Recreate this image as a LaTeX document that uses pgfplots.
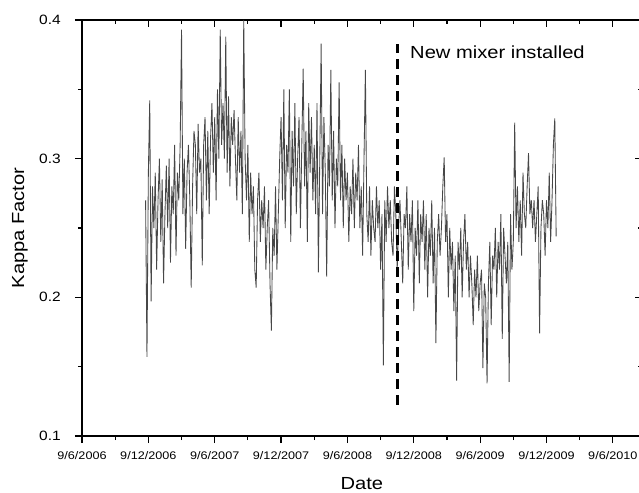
\documentclass[border=0pt]{standalone}
\usepackage{fontspec}
\setmainfont{Liberation Sans}[FakeStretch=1.15]
\usepackage{pgfplots}
\pgfplotsset{compat=1.18}
\begin{document}
\begin{tikzpicture}
\begin{axis}[
  scale only axis, width=559.6pt, height=416pt,
  xmin=0, xmax=50.6, ymin=0.1, ymax=0.4,
  xtick={0,6,...,48},
  xticklabels={9/6/2006,9/12/2006,9/6/2007,9/12/2007,9/6/2008,9/12/2008,9/6/2009,9/12/2009,9/6/2010},
  ytick={0.1,0.2,0.3,0.4}, yticklabels={0.1,0.2,0.3,0.4},
  minor x tick num=1, minor y tick num=1,
  xtick pos=lower, ytick pos=lower,
  tick align=outside,
  major tick length=7pt, minor tick length=4pt,
  axis line style={line width=1.3pt},
  every tick/.style={black, line width=1.2pt},
  xticklabel style={font=\fontsize{11}{13}\selectfont, inner sep=0pt},
  yticklabel style={font=\fontsize{13.5}{15}\selectfont, inner sep=0pt},
  xticklabel shift=8pt, yticklabel shift=14pt,
  xlabel={Date}, ylabel={Kappa Factor},
  xlabel style={font=\fontsize{17.5}{20}\selectfont, at={(axis description cs:0.5,-0.128)}, anchor=base, inner sep=0pt},
  ylabel style={font=\fontsize{17.5}{20}\selectfont, at={(axis description cs:-0.0965,0.5)}, anchor=south, inner sep=0pt},
]
\addplot[black!72, line width=0.85pt] coordinates {
(5.75,0.27)(5.875,0.157)(6,0.29)(6.125,0.342)(6.25,0.197)(6.375,0.28)(6.5,0.25)(6.625,0.29)
(6.75,0.22)(6.875,0.27)(7,0.30)(7.125,0.24)(7.25,0.285)(7.375,0.21)(7.5,0.26)(7.625,0.295)
(7.75,0.25)(7.875,0.30)(8,0.225)(8.125,0.28)(8.25,0.26)(8.375,0.31)(8.5,0.23)(8.625,0.29)
(8.75,0.27)(8.875,0.31)(9,0.393)(9.125,0.26)(9.25,0.30)(9.375,0.235)(9.5,0.29)(9.625,0.31)
(9.75,0.27)(9.875,0.207)(10,0.28)(10.125,0.32)(10.25,0.31)(10.375,0.26)(10.5,0.325)(10.625,0.29)
(10.75,0.30)(10.875,0.223)(11,0.31)(11.125,0.33)(11.25,0.27)(11.375,0.32)(11.5,0.26)(11.625,0.315)
(11.75,0.34)(11.875,0.29)(12,0.33)(12.125,0.27)(12.25,0.35)(12.375,0.30)(12.5,0.393)(12.625,0.31)
(12.75,0.34)(12.875,0.30)(13,0.388)(13.125,0.29)(13.25,0.345)(13.375,0.28)(13.5,0.33)(13.625,0.31)
(13.75,0.335)(13.875,0.30)(14,0.27)(14.125,0.33)(14.25,0.29)(14.375,0.32)(14.5,0.26)(14.625,0.40)
(14.75,0.30)(14.875,0.27)(15,0.31)(15.125,0.24)(15.25,0.29)(15.375,0.26)(15.5,0.28)(15.625,0.22)
(15.75,0.207)(15.875,0.27)(16,0.29)(16.125,0.24)(16.25,0.27)(16.375,0.25)(16.5,0.28)(16.625,0.22)
(16.75,0.25)(16.875,0.27)(17,0.21)(17.125,0.176)(17.25,0.25)(17.375,0.23)(17.5,0.28)(17.625,0.22)
(17.75,0.26)(17.875,0.30)(18,0.33)(18.125,0.27)(18.25,0.35)(18.375,0.25)(18.5,0.31)(18.625,0.29)
(18.75,0.35)(18.875,0.24)(19,0.32)(19.125,0.28)(19.25,0.34)(19.375,0.26)(19.5,0.30)(19.625,0.33)
(19.75,0.25)(19.875,0.31)(20,0.365)(20.125,0.28)(20.25,0.32)(20.375,0.24)(20.5,0.34)(20.625,0.29)
(20.75,0.33)(20.875,0.27)(21,0.31)(21.125,0.26)(21.25,0.34)(21.375,0.218)(21.5,0.30)(21.625,0.383)
(21.75,0.26)(21.875,0.33)(22,0.29)(22.125,0.215)(22.25,0.31)(22.375,0.28)(22.5,0.364)(22.625,0.27)
(22.75,0.32)(22.875,0.25)(23,0.30)(23.125,0.28)(23.25,0.355)(23.375,0.27)(23.5,0.31)(23.625,0.25)
(23.75,0.30)(23.875,0.27)(24,0.29)(24.125,0.24)(24.25,0.28)(24.375,0.26)(24.5,0.30)(24.625,0.25)
(24.75,0.29)(24.875,0.27)(25,0.31)(25.125,0.25)(25.25,0.28)(25.375,0.23)(25.5,0.30)(25.625,0.364)
(25.75,0.26)(25.875,0.24)(26,0.28)(26.125,0.23)(26.25,0.27)(26.375,0.25)(26.5,0.24)(26.625,0.28)
(26.75,0.25)(26.875,0.27)(27,0.22)(27.125,0.26)(27.25,0.151)(27.375,0.27)(27.5,0.24)(27.625,0.28)
(27.75,0.25)(27.875,0.27)(28,0.24)(28.125,0.23)(28.25,0.28)(28.375,0.26)(28.5,0.22)(28.625,0.25)
(28.75,0.27)(28.875,0.24)(29,0.21)(29.125,0.26)(29.25,0.25)(29.375,0.28)(29.5,0.22)(29.625,0.26)
(29.75,0.24)(29.875,0.27)(30,0.19)(30.125,0.25)(30.25,0.23)(30.375,0.27)(30.5,0.21)(30.625,0.26)
(30.75,0.24)(30.875,0.27)(31,0.22)(31.125,0.26)(31.25,0.20)(31.375,0.25)(31.5,0.23)(31.625,0.27)
(31.75,0.21)(31.875,0.25)(32,0.167)(32.125,0.24)(32.25,0.26)(32.375,0.23)(32.5,0.25)(32.625,0.28)
(32.75,0.301)(32.875,0.24)(33,0.26)(33.125,0.20)(33.25,0.25)(33.375,0.22)(33.5,0.24)(33.625,0.19)
(33.75,0.23)(33.875,0.14)(34,0.24)(34.125,0.22)(34.25,0.25)(34.375,0.20)(34.5,0.24)(34.625,0.26)
(34.75,0.22)(34.875,0.24)(35,0.20)(35.125,0.23)(35.25,0.21)(35.375,0.18)(35.5,0.22)(35.625,0.20)
(35.75,0.23)(35.875,0.19)(36,0.21)(36.125,0.22)(36.25,0.149)(36.375,0.21)(36.5,0.20)(36.625,0.138)
(36.75,0.21)(36.875,0.24)(37,0.18)(37.125,0.23)(37.25,0.22)(37.375,0.25)(37.5,0.20)(37.625,0.24)
(37.75,0.22)(37.875,0.26)(38,0.17)(38.125,0.25)(38.25,0.23)(38.375,0.21)(38.5,0.24)(38.625,0.139)
(38.75,0.26)(38.875,0.22)(39,0.24)(39.125,0.326)(39.25,0.25)(39.375,0.28)(39.5,0.24)(39.625,0.27)
(39.75,0.23)(39.875,0.29)(40,0.26)(40.125,0.25)(40.25,0.28)(40.375,0.304)(40.5,0.26)(40.625,0.27)
(40.75,0.25)(40.875,0.27)(41,0.24)(41.125,0.26)(41.25,0.28)(41.375,0.174)(41.5,0.25)(41.625,0.27)
(41.75,0.26)(41.875,0.23)(42,0.27)(42.125,0.25)(42.25,0.29)(42.375,0.24)(42.5,0.27)(42.625,0.31)
(42.75,0.329)(42.875,0.244)
};
\addplot[black, line width=2.6pt, dash pattern=on 10pt off 6pt] coordinates {(28.53,0.1224)(28.53,0.383)};
\node[anchor=base west, inner sep=0pt, font=\fontsize{17.5}{20}\selectfont] at (axis cs:29.66,0.372) {New mixer installed};
\end{axis}
\begin{axis}[
  scale only axis, width=559.6pt, height=416pt,
  xmin=0, xmax=50.6, ymin=0.1, ymax=0.4,
  xtick={0,6,...,48}, ytick={0.1,0.2,0.3,0.4},
  xticklabels={}, yticklabels={},
  minor x tick num=1, minor y tick num=1,
  xtick pos=upper, ytick pos=upper,
  tick align=inside,
  major tick length=7pt, minor tick length=4pt,
  axis line style={draw=none},
  every tick/.style={black, line width=1.2pt},
]
\end{axis}
\pgfresetboundingbox
\useasboundingbox (-82pt,-56pt) rectangle (557pt,436pt);
\end{tikzpicture}
\end{document}
